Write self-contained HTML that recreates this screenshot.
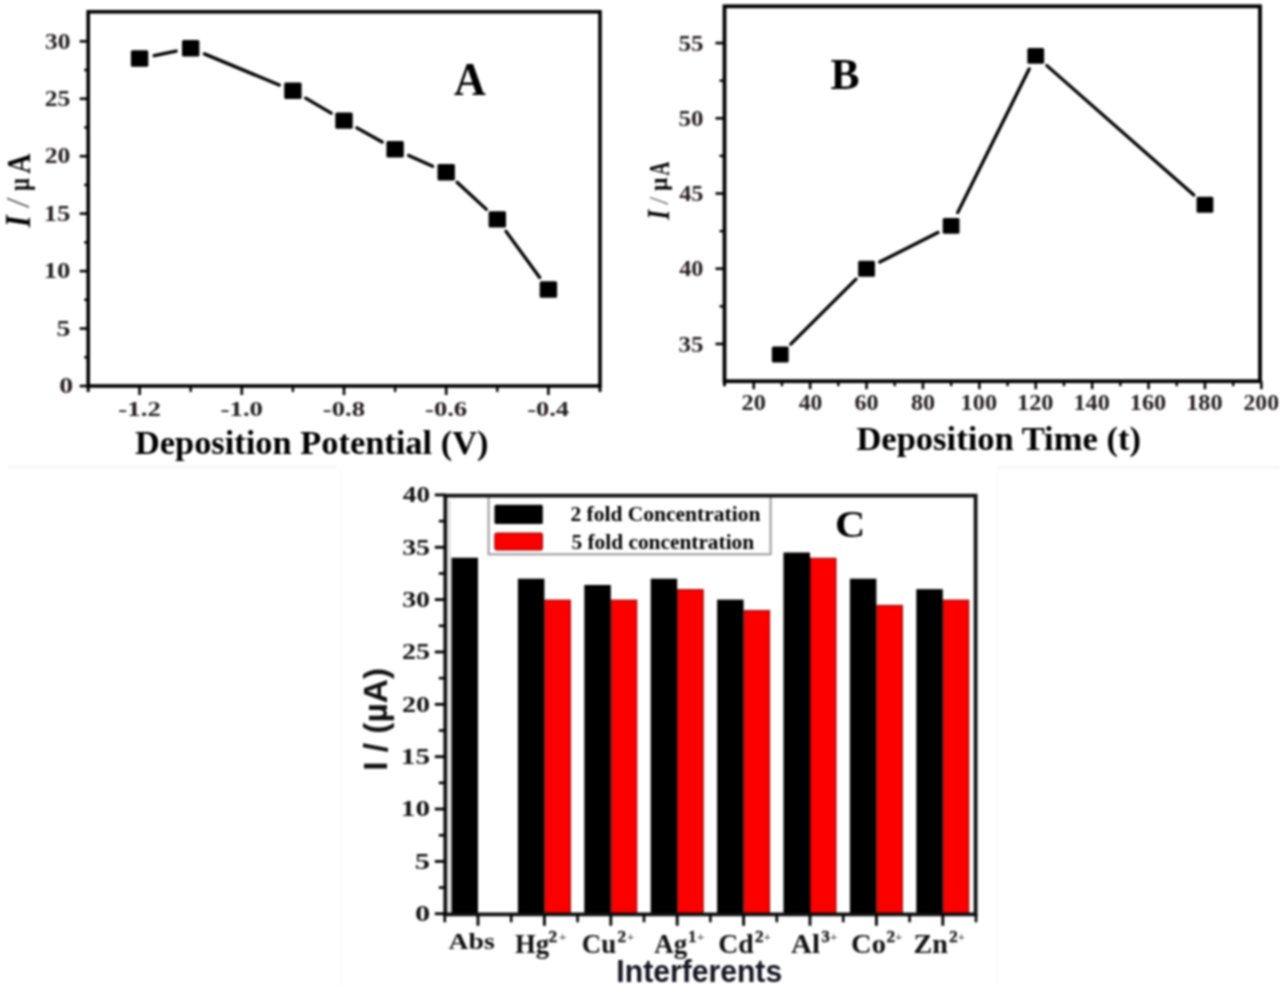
<!DOCTYPE html>
<html><head><meta charset="utf-8"><title>Figure</title>
<style>html,body{margin:0;padding:0;background:#fff;width:1280px;height:987px;overflow:hidden;}svg{display:block;font-family:"Liberation Serif",serif;filter:blur(0.8px);}</style></head>
<body>
<svg width="1280" height="987" viewBox="0 0 1280 987">
<rect x="0" y="0" width="1280" height="987" fill="#fff"/>
<line x1="7.00" y1="467.30" x2="336.00" y2="467.30" stroke="#f1f1f1" stroke-width="1.5" stroke-linecap="butt"/>
<line x1="340.80" y1="468.00" x2="340.80" y2="987.00" stroke="#fafafa" stroke-width="1" stroke-linecap="butt"/>
<line x1="997.00" y1="467.50" x2="1280.00" y2="467.50" stroke="#f2f2f2" stroke-width="1.5" stroke-linecap="butt"/>
<line x1="997.50" y1="468.00" x2="997.50" y2="987.00" stroke="#fafafa" stroke-width="1" stroke-linecap="butt"/>
<rect x="88.2" y="11.8" width="511.8" height="374.2" fill="none" stroke="#000" stroke-width="3.6"/>
<line x1="79.70" y1="386.00" x2="88.20" y2="386.00" stroke="#000" stroke-width="2.6" stroke-linecap="butt"/>
<text x="59.16" y="393.26" font-family='"Liberation Serif", serif' font-weight="bold" font-style="normal" font-size="23.70" textLength="13.88" lengthAdjust="spacingAndGlyphs" fill="#241c20" >0</text>
<line x1="79.70" y1="328.55" x2="88.20" y2="328.55" stroke="#000" stroke-width="2.6" stroke-linecap="butt"/>
<text x="56.58" y="335.81" font-family='"Liberation Serif", serif' font-weight="bold" font-style="normal" font-size="24.06" textLength="13.96" lengthAdjust="spacingAndGlyphs" fill="#241c20" >5</text>
<line x1="79.70" y1="271.10" x2="88.20" y2="271.10" stroke="#000" stroke-width="2.6" stroke-linecap="butt"/>
<text x="43.76" y="278.36" font-family='"Liberation Serif", serif' font-weight="bold" font-style="normal" font-size="23.70" textLength="26.74" lengthAdjust="spacingAndGlyphs" fill="#241c20" >10</text>
<line x1="79.70" y1="213.65" x2="88.20" y2="213.65" stroke="#000" stroke-width="2.6" stroke-linecap="butt"/>
<text x="43.76" y="220.91" font-family='"Liberation Serif", serif' font-weight="bold" font-style="normal" font-size="23.88" textLength="26.74" lengthAdjust="spacingAndGlyphs" fill="#241c20" >15</text>
<line x1="79.70" y1="156.20" x2="88.20" y2="156.20" stroke="#000" stroke-width="2.6" stroke-linecap="butt"/>
<text x="44.81" y="163.46" font-family='"Liberation Serif", serif' font-weight="bold" font-style="normal" font-size="23.70" textLength="25.65" lengthAdjust="spacingAndGlyphs" fill="#241c20" >20</text>
<line x1="79.70" y1="98.75" x2="88.20" y2="98.75" stroke="#000" stroke-width="2.6" stroke-linecap="butt"/>
<text x="44.81" y="106.01" font-family='"Liberation Serif", serif' font-weight="bold" font-style="normal" font-size="23.79" textLength="25.65" lengthAdjust="spacingAndGlyphs" fill="#241c20" >25</text>
<line x1="79.70" y1="41.30" x2="88.20" y2="41.30" stroke="#000" stroke-width="2.6" stroke-linecap="butt"/>
<text x="44.94" y="48.56" font-family='"Liberation Serif", serif' font-weight="bold" font-style="normal" font-size="23.70" textLength="25.51" lengthAdjust="spacingAndGlyphs" fill="#241c20" >30</text>
<line x1="84.20" y1="357.27" x2="88.20" y2="357.27" stroke="#000" stroke-width="2.4" stroke-linecap="butt"/>
<line x1="84.20" y1="299.82" x2="88.20" y2="299.82" stroke="#000" stroke-width="2.4" stroke-linecap="butt"/>
<line x1="84.20" y1="242.38" x2="88.20" y2="242.38" stroke="#000" stroke-width="2.4" stroke-linecap="butt"/>
<line x1="84.20" y1="184.92" x2="88.20" y2="184.92" stroke="#000" stroke-width="2.4" stroke-linecap="butt"/>
<line x1="84.20" y1="127.48" x2="88.20" y2="127.48" stroke="#000" stroke-width="2.4" stroke-linecap="butt"/>
<line x1="84.20" y1="70.02" x2="88.20" y2="70.02" stroke="#000" stroke-width="2.4" stroke-linecap="butt"/>
<line x1="139.60" y1="386.00" x2="139.60" y2="395.00" stroke="#000" stroke-width="2.6" stroke-linecap="butt"/>
<text x="118.39" y="415.97" font-family='"Liberation Serif", serif' font-weight="bold" font-style="normal" font-size="21.85" textLength="42.56" lengthAdjust="spacingAndGlyphs" fill="#241c20" >-1.2</text>
<line x1="241.80" y1="386.00" x2="241.80" y2="395.00" stroke="#000" stroke-width="2.6" stroke-linecap="butt"/>
<text x="220.60" y="415.97" font-family='"Liberation Serif", serif' font-weight="bold" font-style="normal" font-size="21.76" textLength="42.42" lengthAdjust="spacingAndGlyphs" fill="#241c20" >-1.0</text>
<line x1="344.00" y1="386.00" x2="344.00" y2="395.00" stroke="#000" stroke-width="2.6" stroke-linecap="butt"/>
<text x="322.80" y="415.97" font-family='"Liberation Serif", serif' font-weight="bold" font-style="normal" font-size="21.76" textLength="42.28" lengthAdjust="spacingAndGlyphs" fill="#241c20" >-0.8</text>
<line x1="446.20" y1="386.00" x2="446.20" y2="395.00" stroke="#000" stroke-width="2.6" stroke-linecap="butt"/>
<text x="425.00" y="415.97" font-family='"Liberation Serif", serif' font-weight="bold" font-style="normal" font-size="21.76" textLength="42.21" lengthAdjust="spacingAndGlyphs" fill="#241c20" >-0.6</text>
<line x1="548.40" y1="386.00" x2="548.40" y2="395.00" stroke="#000" stroke-width="2.6" stroke-linecap="butt"/>
<text x="527.21" y="415.97" font-family='"Liberation Serif", serif' font-weight="bold" font-style="normal" font-size="21.76" textLength="41.87" lengthAdjust="spacingAndGlyphs" fill="#241c20" >-0.4</text>
<line x1="190.70" y1="386.00" x2="190.70" y2="392.00" stroke="#000" stroke-width="2.4" stroke-linecap="butt"/>
<line x1="292.90" y1="386.00" x2="292.90" y2="392.00" stroke="#000" stroke-width="2.4" stroke-linecap="butt"/>
<line x1="395.10" y1="386.00" x2="395.10" y2="392.00" stroke="#000" stroke-width="2.4" stroke-linecap="butt"/>
<line x1="497.30" y1="386.00" x2="497.30" y2="392.00" stroke="#000" stroke-width="2.4" stroke-linecap="butt"/>
<line x1="88.20" y1="386.00" x2="88.20" y2="392.00" stroke="#000" stroke-width="3.0" stroke-linecap="butt"/>
<line x1="600.00" y1="386.00" x2="600.00" y2="392.00" stroke="#000" stroke-width="3.0" stroke-linecap="butt"/>
<text x="134.90" y="453.74" font-family='"Liberation Serif", serif' font-weight="bold" font-style="normal" font-size="34.16" textLength="353.55" lengthAdjust="spacingAndGlyphs" fill="#000" >Deposition Potential (V)</text>
<g transform="rotate(-90)"><text x="-227.29" y="30.40" font-family='"Liberation Serif", serif' font-weight="bold" font-style="italic" font-size="36.34" textLength="11.93" lengthAdjust="spacingAndGlyphs" fill="#000" >I</text></g>
<g transform="rotate(-90)"><text x="-208.00" y="29.40" font-family='"Liberation Serif", serif' font-weight="normal" font-style="normal" font-size="33.18" textLength="10.51" lengthAdjust="spacingAndGlyphs" fill="#555" >/</text></g>
<g transform="rotate(-90)"><text x="-191.10" y="29.09" font-family='"Liberation Serif", serif' font-weight="bold" font-style="normal" font-size="30.19" textLength="13.02" lengthAdjust="spacingAndGlyphs" fill="#000" >µ</text></g>
<g transform="rotate(-90)"><text x="-173.68" y="30.40" font-family='"Liberation Serif", serif' font-weight="bold" font-style="normal" font-size="34.55" textLength="20.18" lengthAdjust="spacingAndGlyphs" fill="#000" >A</text></g>
<text x="453.96" y="94.70" font-family='"Liberation Serif", serif' font-weight="bold" font-style="normal" font-size="45.61" textLength="31.76" lengthAdjust="spacingAndGlyphs" fill="#000" >A</text>
<line x1="154.11" y1="55.60" x2="176.19" y2="51.13" stroke="#000" stroke-width="3.3" stroke-linecap="round"/>
<line x1="204.36" y1="53.88" x2="279.24" y2="85.02" stroke="#000" stroke-width="3.3" stroke-linecap="round"/>
<line x1="305.68" y1="98.18" x2="331.22" y2="113.11" stroke="#000" stroke-width="3.3" stroke-linecap="round"/>
<line x1="356.90" y1="127.83" x2="382.20" y2="142.05" stroke="#000" stroke-width="3.3" stroke-linecap="round"/>
<line x1="408.60" y1="155.38" x2="432.70" y2="166.22" stroke="#000" stroke-width="3.3" stroke-linecap="round"/>
<line x1="457.08" y1="182.32" x2="486.42" y2="209.36" stroke="#000" stroke-width="3.3" stroke-linecap="round"/>
<line x1="506.02" y1="231.35" x2="539.68" y2="277.52" stroke="#000" stroke-width="3.3" stroke-linecap="round"/>
<rect x="130.90" y="50.33" width="17.40" height="16.40" fill="#000" stroke="none" stroke-width="0" rx="1.5"/>
<rect x="182.00" y="39.99" width="17.40" height="16.40" fill="#000" stroke="none" stroke-width="0" rx="1.5"/>
<rect x="284.20" y="82.51" width="17.40" height="16.40" fill="#000" stroke="none" stroke-width="0" rx="1.5"/>
<rect x="335.30" y="112.38" width="17.40" height="16.40" fill="#000" stroke="none" stroke-width="0" rx="1.5"/>
<rect x="386.40" y="141.11" width="17.40" height="16.40" fill="#000" stroke="none" stroke-width="0" rx="1.5"/>
<rect x="437.50" y="164.09" width="17.40" height="16.40" fill="#000" stroke="none" stroke-width="0" rx="1.5"/>
<rect x="488.60" y="211.20" width="17.40" height="16.40" fill="#000" stroke="none" stroke-width="0" rx="1.5"/>
<rect x="539.70" y="281.28" width="17.40" height="16.40" fill="#000" stroke="none" stroke-width="0" rx="1.5"/>
<rect x="724.5" y="6.3" width="535.5" height="374.9" fill="none" stroke="#000" stroke-width="3.8"/>
<line x1="715.50" y1="343.95" x2="724.50" y2="343.95" stroke="#000" stroke-width="2.6" stroke-linecap="butt"/>
<text x="678.57" y="351.52" font-family='"Liberation Serif", serif' font-weight="bold" font-style="normal" font-size="23.20" textLength="24.86" lengthAdjust="spacingAndGlyphs" fill="#241c20" >35</text>
<line x1="715.50" y1="268.73" x2="724.50" y2="268.73" stroke="#000" stroke-width="2.6" stroke-linecap="butt"/>
<text x="679.20" y="276.29" font-family='"Liberation Serif", serif' font-weight="bold" font-style="normal" font-size="23.11" textLength="24.21" lengthAdjust="spacingAndGlyphs" fill="#241c20" >40</text>
<line x1="715.50" y1="193.50" x2="724.50" y2="193.50" stroke="#000" stroke-width="2.6" stroke-linecap="butt"/>
<text x="679.20" y="201.07" font-family='"Liberation Serif", serif' font-weight="bold" font-style="normal" font-size="23.37" textLength="24.21" lengthAdjust="spacingAndGlyphs" fill="#241c20" >45</text>
<line x1="715.50" y1="118.28" x2="724.50" y2="118.28" stroke="#000" stroke-width="2.6" stroke-linecap="butt"/>
<text x="678.50" y="125.84" font-family='"Liberation Serif", serif' font-weight="bold" font-style="normal" font-size="23.11" textLength="24.93" lengthAdjust="spacingAndGlyphs" fill="#241c20" >50</text>
<line x1="715.50" y1="43.05" x2="724.50" y2="43.05" stroke="#000" stroke-width="2.6" stroke-linecap="butt"/>
<text x="678.50" y="50.62" font-family='"Liberation Serif", serif' font-weight="bold" font-style="normal" font-size="23.46" textLength="24.93" lengthAdjust="spacingAndGlyphs" fill="#241c20" >55</text>
<line x1="719.50" y1="306.34" x2="724.50" y2="306.34" stroke="#000" stroke-width="2.4" stroke-linecap="butt"/>
<line x1="719.50" y1="231.11" x2="724.50" y2="231.11" stroke="#000" stroke-width="2.4" stroke-linecap="butt"/>
<line x1="719.50" y1="155.89" x2="724.50" y2="155.89" stroke="#000" stroke-width="2.4" stroke-linecap="butt"/>
<line x1="719.50" y1="80.66" x2="724.50" y2="80.66" stroke="#000" stroke-width="2.4" stroke-linecap="butt"/>
<line x1="753.75" y1="381.20" x2="753.75" y2="389.20" stroke="#000" stroke-width="2.6" stroke-linecap="butt"/>
<text x="741.52" y="410.27" font-family='"Liberation Serif", serif' font-weight="bold" font-style="normal" font-size="22.96" textLength="24.35" lengthAdjust="spacingAndGlyphs" fill="#241c20" >20</text>
<line x1="810.15" y1="381.20" x2="810.15" y2="389.20" stroke="#000" stroke-width="2.6" stroke-linecap="butt"/>
<text x="798.66" y="410.27" font-family='"Liberation Serif", serif' font-weight="bold" font-style="normal" font-size="22.96" textLength="23.58" lengthAdjust="spacingAndGlyphs" fill="#241c20" >40</text>
<line x1="866.55" y1="381.20" x2="866.55" y2="389.20" stroke="#000" stroke-width="2.6" stroke-linecap="butt"/>
<text x="854.50" y="410.27" font-family='"Liberation Serif", serif' font-weight="bold" font-style="normal" font-size="22.96" textLength="24.15" lengthAdjust="spacingAndGlyphs" fill="#241c20" >60</text>
<line x1="922.95" y1="381.20" x2="922.95" y2="389.20" stroke="#000" stroke-width="2.6" stroke-linecap="butt"/>
<text x="910.97" y="410.27" font-family='"Liberation Serif", serif' font-weight="bold" font-style="normal" font-size="22.96" textLength="24.09" lengthAdjust="spacingAndGlyphs" fill="#241c20" >80</text>
<line x1="979.35" y1="381.20" x2="979.35" y2="389.20" stroke="#000" stroke-width="2.6" stroke-linecap="butt"/>
<text x="960.61" y="410.27" font-family='"Liberation Serif", serif' font-weight="bold" font-style="normal" font-size="22.96" textLength="36.46" lengthAdjust="spacingAndGlyphs" fill="#241c20" >100</text>
<line x1="1035.75" y1="381.20" x2="1035.75" y2="389.20" stroke="#000" stroke-width="2.6" stroke-linecap="butt"/>
<text x="1017.01" y="410.27" font-family='"Liberation Serif", serif' font-weight="bold" font-style="normal" font-size="22.96" textLength="36.46" lengthAdjust="spacingAndGlyphs" fill="#241c20" >120</text>
<line x1="1092.15" y1="381.20" x2="1092.15" y2="389.20" stroke="#000" stroke-width="2.6" stroke-linecap="butt"/>
<text x="1073.41" y="410.27" font-family='"Liberation Serif", serif' font-weight="bold" font-style="normal" font-size="22.96" textLength="36.46" lengthAdjust="spacingAndGlyphs" fill="#241c20" >140</text>
<line x1="1148.55" y1="381.20" x2="1148.55" y2="389.20" stroke="#000" stroke-width="2.6" stroke-linecap="butt"/>
<text x="1129.81" y="410.27" font-family='"Liberation Serif", serif' font-weight="bold" font-style="normal" font-size="22.96" textLength="36.46" lengthAdjust="spacingAndGlyphs" fill="#241c20" >160</text>
<line x1="1204.95" y1="381.20" x2="1204.95" y2="389.20" stroke="#000" stroke-width="2.6" stroke-linecap="butt"/>
<text x="1186.21" y="410.27" font-family='"Liberation Serif", serif' font-weight="bold" font-style="normal" font-size="22.96" textLength="36.46" lengthAdjust="spacingAndGlyphs" fill="#241c20" >180</text>
<line x1="1261.35" y1="381.20" x2="1261.35" y2="389.20" stroke="#000" stroke-width="2.6" stroke-linecap="butt"/>
<text x="1243.54" y="410.27" font-family='"Liberation Serif", serif' font-weight="bold" font-style="normal" font-size="22.96" textLength="35.49" lengthAdjust="spacingAndGlyphs" fill="#241c20" >200</text>
<line x1="781.95" y1="381.20" x2="781.95" y2="386.20" stroke="#000" stroke-width="2.4" stroke-linecap="butt"/>
<line x1="838.35" y1="381.20" x2="838.35" y2="386.20" stroke="#000" stroke-width="2.4" stroke-linecap="butt"/>
<line x1="894.75" y1="381.20" x2="894.75" y2="386.20" stroke="#000" stroke-width="2.4" stroke-linecap="butt"/>
<line x1="951.15" y1="381.20" x2="951.15" y2="386.20" stroke="#000" stroke-width="2.4" stroke-linecap="butt"/>
<line x1="1007.55" y1="381.20" x2="1007.55" y2="386.20" stroke="#000" stroke-width="2.4" stroke-linecap="butt"/>
<line x1="1063.95" y1="381.20" x2="1063.95" y2="386.20" stroke="#000" stroke-width="2.4" stroke-linecap="butt"/>
<line x1="1120.35" y1="381.20" x2="1120.35" y2="386.20" stroke="#000" stroke-width="2.4" stroke-linecap="butt"/>
<line x1="1176.75" y1="381.20" x2="1176.75" y2="386.20" stroke="#000" stroke-width="2.4" stroke-linecap="butt"/>
<line x1="1233.15" y1="381.20" x2="1233.15" y2="386.20" stroke="#000" stroke-width="2.4" stroke-linecap="butt"/>
<line x1="724.50" y1="381.20" x2="724.50" y2="386.20" stroke="#000" stroke-width="3.0" stroke-linecap="butt"/>
<text x="856.40" y="449.81" font-family='"Liberation Serif", serif' font-weight="bold" font-style="normal" font-size="33.83" textLength="284.50" lengthAdjust="spacingAndGlyphs" fill="#000" >Deposition Time (t)</text>
<g transform="rotate(-90)"><text x="-219.74" y="668.50" font-family='"Liberation Serif", serif' font-weight="bold" font-style="italic" font-size="30.99" textLength="10.01" lengthAdjust="spacingAndGlyphs" fill="#000" >I</text></g>
<g transform="rotate(-90)"><text x="-204.80" y="667.50" font-family='"Liberation Serif", serif' font-weight="normal" font-style="normal" font-size="28.03" textLength="8.11" lengthAdjust="spacingAndGlyphs" fill="#666" >/</text></g>
<g transform="rotate(-90)"><text x="-190.91" y="666.97" font-family='"Liberation Serif", serif' font-weight="bold" font-style="normal" font-size="26.02" textLength="13.55" lengthAdjust="spacingAndGlyphs" fill="#000" >µ</text></g>
<g transform="rotate(-90)"><text x="-175.39" y="668.50" font-family='"Liberation Serif", serif' font-weight="bold" font-style="normal" font-size="30.30" textLength="13.73" lengthAdjust="spacingAndGlyphs" fill="#000" >A</text></g>
<text x="830.54" y="88.99" font-family='"Liberation Serif", serif' font-weight="bold" font-style="normal" font-size="44.71" textLength="29.04" lengthAdjust="spacingAndGlyphs" fill="#000" >B</text>
<line x1="790.76" y1="344.05" x2="856.05" y2="279.16" stroke="#000" stroke-width="3.3" stroke-linecap="round"/>
<line x1="879.75" y1="262.03" x2="937.95" y2="232.54" stroke="#000" stroke-width="3.3" stroke-linecap="round"/>
<line x1="957.74" y1="212.60" x2="1029.16" y2="69.09" stroke="#000" stroke-width="3.3" stroke-linecap="round"/>
<line x1="1046.86" y1="65.62" x2="1193.84" y2="195.00" stroke="#000" stroke-width="3.3" stroke-linecap="round"/>
<rect x="771.86" y="346.53" width="16.80" height="15.90" fill="#000" stroke="none" stroke-width="0" rx="1.5"/>
<rect x="858.15" y="260.78" width="16.80" height="15.90" fill="#000" stroke="none" stroke-width="0" rx="1.5"/>
<rect x="942.75" y="217.90" width="16.80" height="15.90" fill="#000" stroke="none" stroke-width="0" rx="1.5"/>
<rect x="1027.35" y="47.89" width="16.80" height="15.90" fill="#000" stroke="none" stroke-width="0" rx="1.5"/>
<rect x="1196.55" y="196.83" width="16.80" height="15.90" fill="#000" stroke="none" stroke-width="0" rx="1.5"/>
<rect x="451.50" y="557.74" width="26.50" height="356.56" fill="#000" stroke="none" stroke-width="0" />
<rect x="517.90" y="578.68" width="26.50" height="335.62" fill="#000" stroke="none" stroke-width="0" />
<rect x="544.90" y="600.12" width="25.50" height="314.18" fill="#fc0000" stroke="#8a0000" stroke-width="1" />
<rect x="584.30" y="584.96" width="26.50" height="329.34" fill="#000" stroke="none" stroke-width="0" />
<rect x="611.30" y="600.12" width="25.50" height="314.18" fill="#fc0000" stroke="#8a0000" stroke-width="1" />
<rect x="650.70" y="578.68" width="26.50" height="335.62" fill="#000" stroke="none" stroke-width="0" />
<rect x="677.70" y="589.65" width="25.50" height="324.65" fill="#fc0000" stroke="#8a0000" stroke-width="1" />
<rect x="717.10" y="599.62" width="26.50" height="314.68" fill="#000" stroke="none" stroke-width="0" />
<rect x="744.10" y="610.59" width="25.50" height="303.71" fill="#fc0000" stroke="#8a0000" stroke-width="1" />
<rect x="783.50" y="552.50" width="26.50" height="361.80" fill="#000" stroke="none" stroke-width="0" />
<rect x="810.50" y="558.24" width="25.50" height="356.06" fill="#fc0000" stroke="#8a0000" stroke-width="1" />
<rect x="849.90" y="578.68" width="26.50" height="335.62" fill="#000" stroke="none" stroke-width="0" />
<rect x="876.90" y="605.36" width="25.50" height="308.94" fill="#fc0000" stroke="#8a0000" stroke-width="1" />
<rect x="916.30" y="589.15" width="26.50" height="325.15" fill="#000" stroke="none" stroke-width="0" />
<rect x="943.30" y="600.12" width="25.50" height="314.18" fill="#fc0000" stroke="#8a0000" stroke-width="1" />
<line x1="449.60" y1="500.00" x2="449.60" y2="912.00" stroke="#b8b8b8" stroke-width="1" stroke-linecap="butt"/>
<rect x="488.60" y="495.50" width="282.00" height="58.80" fill="#fff" stroke="#9a9a9a" stroke-width="2" />
<rect x="494.50" y="504.70" width="48.30" height="19.20" fill="#000" stroke="none" stroke-width="0" rx="1.5"/>
<rect x="494.80" y="533.00" width="47.70" height="17.00" fill="#fc0000" stroke="#8a0000" stroke-width="1" rx="1.5"/>
<text x="570.49" y="521.09" font-family='"Liberation Serif", serif' font-weight="bold" font-style="normal" font-size="20.70" textLength="189.85" lengthAdjust="spacingAndGlyphs" fill="#000" >2 fold Concentration</text>
<text x="571.45" y="549.20" font-family='"Liberation Serif", serif' font-weight="bold" font-style="normal" font-size="20.14" textLength="182.73" lengthAdjust="spacingAndGlyphs" fill="#000" >5 fold concentration</text>
<path d="M445.3 495.6 H975.6 V914.3 H445.3 Z" fill="none" stroke="#111" stroke-width="3.8"/>
<line x1="434.80" y1="913.75" x2="445.30" y2="913.75" stroke="#000" stroke-width="2.8" stroke-linecap="butt"/>
<text x="414.96" y="921.12" font-family='"Liberation Serif", serif' font-weight="bold" font-style="normal" font-size="23.41" textLength="15.18" lengthAdjust="spacingAndGlyphs" fill="#111" >0</text>
<line x1="434.80" y1="861.39" x2="445.30" y2="861.39" stroke="#000" stroke-width="2.8" stroke-linecap="butt"/>
<text x="414.88" y="868.76" font-family='"Liberation Serif", serif' font-weight="bold" font-style="normal" font-size="23.76" textLength="15.27" lengthAdjust="spacingAndGlyphs" fill="#111" >5</text>
<line x1="434.80" y1="809.04" x2="445.30" y2="809.04" stroke="#000" stroke-width="2.8" stroke-linecap="butt"/>
<text x="400.86" y="816.41" font-family='"Liberation Serif", serif' font-weight="bold" font-style="normal" font-size="23.41" textLength="29.24" lengthAdjust="spacingAndGlyphs" fill="#111" >10</text>
<line x1="434.80" y1="756.68" x2="445.30" y2="756.68" stroke="#000" stroke-width="2.8" stroke-linecap="butt"/>
<text x="400.86" y="764.05" font-family='"Liberation Serif", serif' font-weight="bold" font-style="normal" font-size="23.58" textLength="29.24" lengthAdjust="spacingAndGlyphs" fill="#111" >15</text>
<line x1="434.80" y1="704.33" x2="445.30" y2="704.33" stroke="#000" stroke-width="2.8" stroke-linecap="butt"/>
<text x="402.01" y="711.70" font-family='"Liberation Serif", serif' font-weight="bold" font-style="normal" font-size="23.41" textLength="28.04" lengthAdjust="spacingAndGlyphs" fill="#111" >20</text>
<line x1="434.80" y1="651.98" x2="445.30" y2="651.98" stroke="#000" stroke-width="2.8" stroke-linecap="butt"/>
<text x="402.01" y="659.34" font-family='"Liberation Serif", serif' font-weight="bold" font-style="normal" font-size="23.49" textLength="28.04" lengthAdjust="spacingAndGlyphs" fill="#111" >25</text>
<line x1="434.80" y1="599.62" x2="445.30" y2="599.62" stroke="#000" stroke-width="2.8" stroke-linecap="butt"/>
<text x="402.15" y="606.99" font-family='"Liberation Serif", serif' font-weight="bold" font-style="normal" font-size="23.41" textLength="27.89" lengthAdjust="spacingAndGlyphs" fill="#111" >30</text>
<line x1="434.80" y1="547.26" x2="445.30" y2="547.26" stroke="#000" stroke-width="2.8" stroke-linecap="butt"/>
<text x="402.15" y="554.63" font-family='"Liberation Serif", serif' font-weight="bold" font-style="normal" font-size="23.49" textLength="27.89" lengthAdjust="spacingAndGlyphs" fill="#111" >35</text>
<line x1="434.80" y1="494.91" x2="445.30" y2="494.91" stroke="#000" stroke-width="2.8" stroke-linecap="butt"/>
<text x="402.86" y="502.28" font-family='"Liberation Serif", serif' font-weight="bold" font-style="normal" font-size="23.41" textLength="27.16" lengthAdjust="spacingAndGlyphs" fill="#111" >40</text>
<line x1="438.80" y1="887.57" x2="445.30" y2="887.57" stroke="#000" stroke-width="2.6" stroke-linecap="butt"/>
<line x1="438.80" y1="835.22" x2="445.30" y2="835.22" stroke="#000" stroke-width="2.6" stroke-linecap="butt"/>
<line x1="438.80" y1="782.86" x2="445.30" y2="782.86" stroke="#000" stroke-width="2.6" stroke-linecap="butt"/>
<line x1="438.80" y1="730.51" x2="445.30" y2="730.51" stroke="#000" stroke-width="2.6" stroke-linecap="butt"/>
<line x1="438.80" y1="678.15" x2="445.30" y2="678.15" stroke="#000" stroke-width="2.6" stroke-linecap="butt"/>
<line x1="438.80" y1="625.80" x2="445.30" y2="625.80" stroke="#000" stroke-width="2.6" stroke-linecap="butt"/>
<line x1="438.80" y1="573.44" x2="445.30" y2="573.44" stroke="#000" stroke-width="2.6" stroke-linecap="butt"/>
<line x1="438.80" y1="521.09" x2="445.30" y2="521.09" stroke="#000" stroke-width="2.6" stroke-linecap="butt"/>
<line x1="478.00" y1="914.30" x2="478.00" y2="925.80" stroke="#000" stroke-width="2.8" stroke-linecap="butt"/>
<line x1="544.40" y1="914.30" x2="544.40" y2="925.80" stroke="#000" stroke-width="2.8" stroke-linecap="butt"/>
<line x1="610.80" y1="914.30" x2="610.80" y2="925.80" stroke="#000" stroke-width="2.8" stroke-linecap="butt"/>
<line x1="677.20" y1="914.30" x2="677.20" y2="925.80" stroke="#000" stroke-width="2.8" stroke-linecap="butt"/>
<line x1="743.60" y1="914.30" x2="743.60" y2="925.80" stroke="#000" stroke-width="2.8" stroke-linecap="butt"/>
<line x1="810.00" y1="914.30" x2="810.00" y2="925.80" stroke="#000" stroke-width="2.8" stroke-linecap="butt"/>
<line x1="876.40" y1="914.30" x2="876.40" y2="925.80" stroke="#000" stroke-width="2.8" stroke-linecap="butt"/>
<line x1="942.80" y1="914.30" x2="942.80" y2="925.80" stroke="#000" stroke-width="2.8" stroke-linecap="butt"/>
<line x1="444.80" y1="914.30" x2="444.80" y2="922.30" stroke="#000" stroke-width="2.6" stroke-linecap="butt"/>
<line x1="511.20" y1="914.30" x2="511.20" y2="922.30" stroke="#000" stroke-width="2.6" stroke-linecap="butt"/>
<line x1="577.60" y1="914.30" x2="577.60" y2="922.30" stroke="#000" stroke-width="2.6" stroke-linecap="butt"/>
<line x1="644.00" y1="914.30" x2="644.00" y2="922.30" stroke="#000" stroke-width="2.6" stroke-linecap="butt"/>
<line x1="710.40" y1="914.30" x2="710.40" y2="922.30" stroke="#000" stroke-width="2.6" stroke-linecap="butt"/>
<line x1="776.80" y1="914.30" x2="776.80" y2="922.30" stroke="#000" stroke-width="2.6" stroke-linecap="butt"/>
<line x1="843.20" y1="914.30" x2="843.20" y2="922.30" stroke="#000" stroke-width="2.6" stroke-linecap="butt"/>
<line x1="909.60" y1="914.30" x2="909.60" y2="922.30" stroke="#000" stroke-width="2.6" stroke-linecap="butt"/>
<line x1="976.00" y1="914.30" x2="976.00" y2="922.30" stroke="#000" stroke-width="2.6" stroke-linecap="butt"/>
<text x="448.52" y="948.90" font-family='"Liberation Serif", serif' font-weight="bold" font-style="normal" font-size="23.60" textLength="46.17" lengthAdjust="spacingAndGlyphs" fill="#111" >Abs</text>
<text x="514.93" y="952.60" font-family='"Liberation Serif", serif' font-weight="bold" font-style="normal" font-size="26.87" textLength="34.14" lengthAdjust="spacingAndGlyphs" fill="#111" >Hg</text>
<text x="548.57" y="941.80" font-family='"Liberation Serif", serif' font-weight="bold" font-style="normal" font-size="17.51" textLength="8.55" lengthAdjust="spacingAndGlyphs" fill="#1a1a1a" stroke="#1a1a1a" stroke-width="0.5">2</text>
<text x="559.02" y="940.65" font-family='"Liberation Serif", serif' font-weight="bold" font-style="normal" font-size="12.47" textLength="7.35" lengthAdjust="spacingAndGlyphs" fill="#444" >+</text>
<text x="581.86" y="952.60" font-family='"Liberation Serif", serif' font-weight="bold" font-style="normal" font-size="27.77" textLength="34.34" lengthAdjust="spacingAndGlyphs" fill="#111" >Cu</text>
<text x="617.47" y="941.80" font-family='"Liberation Serif", serif' font-weight="bold" font-style="normal" font-size="17.51" textLength="8.55" lengthAdjust="spacingAndGlyphs" fill="#1a1a1a" stroke="#1a1a1a" stroke-width="0.5">2</text>
<text x="627.37" y="940.65" font-family='"Liberation Serif", serif' font-weight="bold" font-style="normal" font-size="12.47" textLength="6.86" lengthAdjust="spacingAndGlyphs" fill="#444" >+</text>
<text x="654.33" y="952.60" font-family='"Liberation Serif", serif' font-weight="bold" font-style="normal" font-size="26.67" textLength="32.93" lengthAdjust="spacingAndGlyphs" fill="#111" >Ag</text>
<text x="688.19" y="941.80" font-family='"Liberation Serif", serif' font-weight="bold" font-style="normal" font-size="17.58" textLength="8.16" lengthAdjust="spacingAndGlyphs" fill="#1a1a1a" stroke="#1a1a1a" stroke-width="0.5">1</text>
<text x="697.02" y="940.65" font-family='"Liberation Serif", serif' font-weight="bold" font-style="normal" font-size="12.47" textLength="7.35" lengthAdjust="spacingAndGlyphs" fill="#444" >+</text>
<text x="718.31" y="952.60" font-family='"Liberation Serif", serif' font-weight="bold" font-style="normal" font-size="26.47" textLength="35.49" lengthAdjust="spacingAndGlyphs" fill="#111" >Cd</text>
<text x="755.07" y="941.80" font-family='"Liberation Serif", serif' font-weight="bold" font-style="normal" font-size="17.51" textLength="8.55" lengthAdjust="spacingAndGlyphs" fill="#1a1a1a" stroke="#1a1a1a" stroke-width="0.5">2</text>
<text x="763.87" y="940.65" font-family='"Liberation Serif", serif' font-weight="bold" font-style="normal" font-size="12.47" textLength="6.86" lengthAdjust="spacingAndGlyphs" fill="#444" >+</text>
<text x="791.11" y="952.60" font-family='"Liberation Serif", serif' font-weight="bold" font-style="normal" font-size="26.47" textLength="28.90" lengthAdjust="spacingAndGlyphs" fill="#111" >Al</text>
<text x="821.39" y="941.80" font-family='"Liberation Serif", serif' font-weight="bold" font-style="normal" font-size="17.51" textLength="8.19" lengthAdjust="spacingAndGlyphs" fill="#1a1a1a" stroke="#1a1a1a" stroke-width="0.5">3</text>
<text x="830.16" y="940.65" font-family='"Liberation Serif", serif' font-weight="bold" font-style="normal" font-size="12.47" textLength="6.99" lengthAdjust="spacingAndGlyphs" fill="#444" >+</text>
<text x="851.08" y="952.60" font-family='"Liberation Serif", serif' font-weight="bold" font-style="normal" font-size="27.77" textLength="34.78" lengthAdjust="spacingAndGlyphs" fill="#111" >Co</text>
<text x="886.57" y="941.80" font-family='"Liberation Serif", serif' font-weight="bold" font-style="normal" font-size="17.51" textLength="8.55" lengthAdjust="spacingAndGlyphs" fill="#1a1a1a" stroke="#1a1a1a" stroke-width="0.5">2</text>
<text x="895.37" y="940.65" font-family='"Liberation Serif", serif' font-weight="bold" font-style="normal" font-size="12.47" textLength="6.86" lengthAdjust="spacingAndGlyphs" fill="#444" >+</text>
<text x="913.57" y="952.60" font-family='"Liberation Serif", serif' font-weight="bold" font-style="normal" font-size="26.87" textLength="34.38" lengthAdjust="spacingAndGlyphs" fill="#111" >Zn</text>
<text x="949.28" y="941.80" font-family='"Liberation Serif", serif' font-weight="bold" font-style="normal" font-size="17.51" textLength="8.43" lengthAdjust="spacingAndGlyphs" fill="#1a1a1a" stroke="#1a1a1a" stroke-width="0.5">2</text>
<text x="957.88" y="940.65" font-family='"Liberation Serif", serif' font-weight="bold" font-style="normal" font-size="12.47" textLength="6.74" lengthAdjust="spacingAndGlyphs" fill="#444" >+</text>
<text x="616.37" y="981.90" font-family='"Liberation Sans", sans-serif' font-weight="bold" font-style="normal" font-size="32.00" textLength="165.79" lengthAdjust="spacingAndGlyphs" fill="#141420" >Interferents</text>
<g transform="rotate(-90)"><text x="-770.86" y="386.76" font-family='"Liberation Sans", sans-serif' font-weight="bold" font-style="normal" font-size="32.49" textLength="102.96" lengthAdjust="spacingAndGlyphs" fill="#111" >I / (µA)</text></g>
<text x="834.90" y="536.62" font-family='"Liberation Serif", serif' font-weight="bold" font-style="normal" font-size="38.22" textLength="30.34" lengthAdjust="spacingAndGlyphs" fill="#000" >C</text>
</svg>
</body></html>
